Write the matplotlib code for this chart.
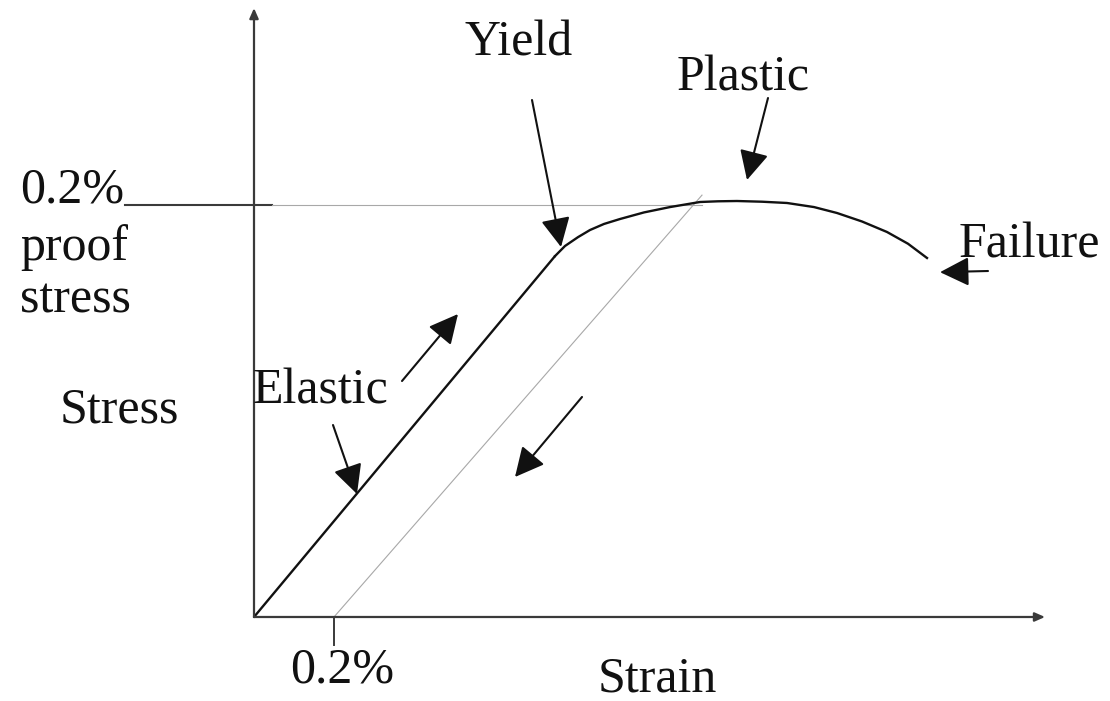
import numpy as np
import matplotlib
matplotlib.use('Agg')
import matplotlib.pyplot as plt

# stress-strain sketch: strain in %, stress normalised to the 0.2% proof stress
strain_elastic = [0.0, 0.7525]
stress_elastic = [0.0, 0.876]

strain_plastic = [0.7525, 0.7775, 0.81, 0.84, 0.875, 0.915, 0.975, 1.04, 1.115,
                  1.16, 1.2075, 1.27, 1.3325, 1.40, 1.4575, 1.52, 1.5825, 1.635, 1.6825]
stress_plastic = [0.876, 0.9005, 0.922, 0.9393, 0.954, 0.966, 0.982, 0.995, 1.0073,
                  1.009, 1.0097, 1.008, 1.0049, 0.995, 0.9806, 0.960, 0.9345, 0.906, 0.8714]

proof_strain = 0.2
proof_stress = 1.0
offset_top = [1.12, 1.024]   # where the 0.2% offset line stops

plt.rcParams['font.family'] = ['Liberation Serif', 'DejaVu Serif']

fig = plt.figure(figsize=(11.1, 7.01), dpi=100)
ax = fig.add_axes([0, 0, 1, 1])
ax.set_xlim(-0.635, 2.14)
ax.set_ylim(-0.2039, 1.4976)
ax.axis('off')

axc = '#3a3a3a'
grey = '#a8a8a8'
txt = '#111111'

# axes with small arrow heads
ax.annotate('', xy=(0, 1.478), xytext=(0, 0),
            arrowprops=dict(arrowstyle='-|>,head_length=0.5,head_width=0.22',
                            color=axc, lw=1.6, mutation_scale=12, shrinkA=0, shrinkB=0))
ax.annotate('', xy=(1.9775, 0), xytext=(0, 0),
            arrowprops=dict(arrowstyle='-|>,head_length=0.5,head_width=0.22',
                            color=axc, lw=1.6, mutation_scale=12, shrinkA=0, shrinkB=0))

# proof stress line and 0.2% tick
ax.plot([-0.3225, 0.045], [proof_stress, proof_stress], color=axc, lw=1.5)
ax.plot([0.045, offset_top[0]], [proof_stress, proof_stress], color=grey, lw=0.8)
ax.plot([proof_strain, proof_strain], [0, -0.068], color=axc, lw=1.4)
ax.plot([proof_strain, offset_top[0]], [0, offset_top[1]], color=grey, lw=0.8)

# the curve
ax.plot(strain_elastic, stress_elastic, color='#111111', lw=1.7, solid_capstyle='round')
ax.plot(strain_plastic, stress_plastic, color='#111111', lw=1.7, solid_joinstyle='round')

# arrows (tail -> tip)
arr = dict(arrowstyle='-|>,head_length=0.9,head_width=0.45', color='#111111',
           lw=1.5, mutation_scale=20, shrinkA=0, shrinkB=0)
for tail, tip in [((0.695, 1.2549), (0.7675, 0.8981)),
                  ((1.285, 1.2597), (1.2325, 1.0607)),
                  ((1.835, 0.8398), (1.715, 0.837)),
                  ((0.37, 0.5728), (0.51, 0.7354)),
                  ((0.1975, 0.4660), (0.2575, 0.2985)),
                  ((0.82, 0.5340), (0.6525, 0.3398))]:
    ax.annotate('', xy=tip, xytext=tail, arrowprops=arr)

fs = 36
ax.text(-0.585, 1.0049, '0.2%', fontsize=fs, color=txt, va='baseline')
ax.text(-0.585, 0.8665, 'proof', fontsize=fs, color=txt, va='baseline')
ax.text(-0.585, 0.7379, 'stress', fontsize=fs, color=txt, va='baseline')
ax.text(-0.485, 0.4733, 'Stress', fontsize=fs, color=txt, va='baseline')
ax.text(-0.0025, 0.5194, 'Elastic', fontsize=fs, color=txt, va='baseline')
ax.text(0.5275, 1.364, 'Yield', fontsize=fs, color=txt, va='baseline')
ax.text(1.0575, 1.279, 'Plastic', fontsize=fs, color=txt, va='baseline')
ax.text(1.7625, 0.8714, 'Failure', fontsize=fs, color=txt, va='baseline')
ax.text(0.09, -0.160, '0.2%', fontsize=fs, color=txt, va='baseline')
ax.text(0.86, -0.182, 'Strain', fontsize=fs, color=txt, va='baseline')

fig.savefig('out.png', dpi=100)
